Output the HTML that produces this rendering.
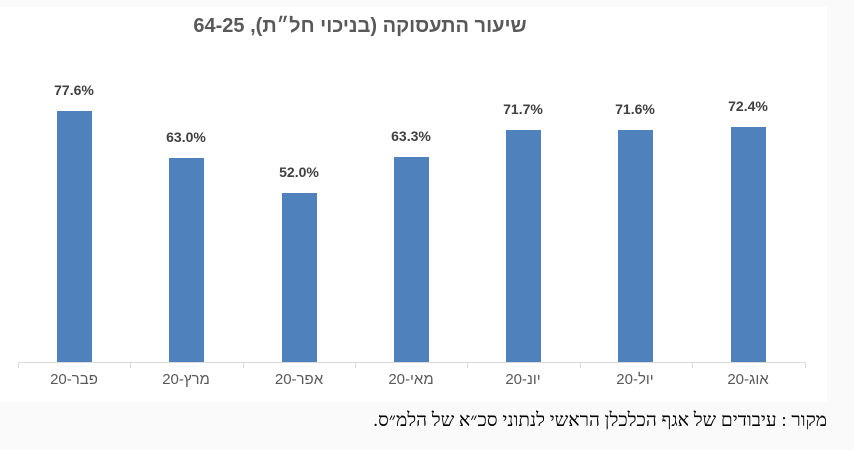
<!DOCTYPE html>
<html><head><meta charset="utf-8"><style>
body{margin:0;width:854px;height:450px;background:#fafafa;overflow:hidden;position:relative;font-family:"Liberation Sans","Noto Sans CJK SC",sans-serif}
#c{position:absolute;left:0;top:7px;width:827px;height:395px;background:#fff}
.b{position:absolute;width:35px;background:#4f81bd}
.v{position:absolute;width:80px;text-align:center;font-weight:bold;font-size:14px;color:#404040}
.x{position:absolute;width:100px;text-align:center;font-size:15px;color:#595959;top:371px}
.t{position:absolute;left:18px;top:362px;width:788px;height:1px;background:#d9d9d9}
.k{position:absolute;top:362px;width:1px;height:6px;background:#d9d9d9}
</style></head><body>
<div id="c"></div>
<div style="position:absolute;left:150px;top:15px;width:420px;text-align:center;font-weight:bold;font-size:20px;color:#595959;direction:rtl">שיעור התעסוקה (בניכוי חל״ת), 64-25</div>
<div class="t"></div>
<div class="k" style="left:18px"></div><div class="k" style="left:130px"></div><div class="k" style="left:243px"></div><div class="k" style="left:355px"></div><div class="k" style="left:467px"></div><div class="k" style="left:580px"></div><div class="k" style="left:692px"></div><div class="k" style="left:805px"></div>
<div class="b" style="left:57px;top:111px;height:251px"></div>
<div class="b" style="left:169px;top:158px;height:204px"></div>
<div class="b" style="left:282px;top:193px;height:169px"></div>
<div class="b" style="left:394px;top:157px;height:205px"></div>
<div class="b" style="left:506px;top:130px;height:232px"></div>
<div class="b" style="left:618px;top:130px;height:232px"></div>
<div class="b" style="left:731px;top:127px;height:235px"></div>
<div class="v" style="left:34px;top:82px">77.6%</div>
<div class="v" style="left:146px;top:129px">63.0%</div>
<div class="v" style="left:259px;top:164px">52.0%</div>
<div class="v" style="left:371px;top:128px">63.3%</div>
<div class="v" style="left:483px;top:101px">71.7%</div>
<div class="v" style="left:595px;top:101px">71.6%</div>
<div class="v" style="left:708px;top:98px">72.4%</div>
<div class="x" style="left:24px">פבר-20</div>
<div class="x" style="left:136px">מרץ-20</div>
<div class="x" style="left:249px">אפר-20</div>
<div class="x" style="left:361px">מאי-20</div>
<div class="x" style="left:473px">יונ-20</div>
<div class="x" style="left:585px">יול-20</div>
<div class="x" style="left:698px">אוג-20</div>
<div style="position:absolute;right:27px;top:410px;font-size:19px;color:#000;direction:rtl;font-family:'Liberation Serif','Noto Serif CJK SC',serif">מקור : עיבודים של אגף הכלכלן הראשי לנתוני סכ״א של הלמ״ס.</div>
</body></html>
